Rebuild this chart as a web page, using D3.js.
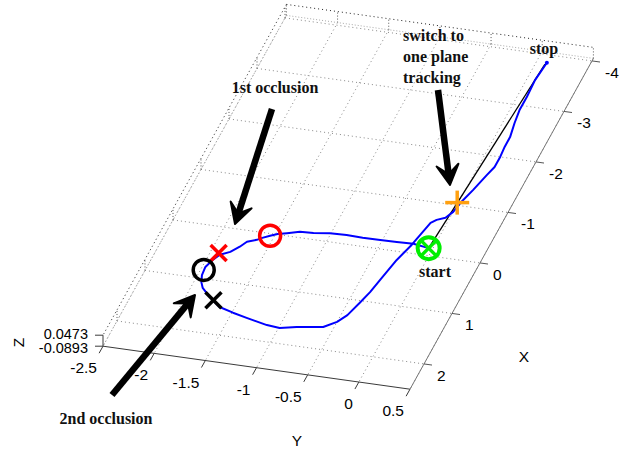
<!DOCTYPE html>
<html>
<head>
<meta charset="utf-8">
<script src="https://cdn.jsdelivr.net/npm/d3@7"></script>
<style>
  body { margin: 0; background: #fff; }
  svg { display: block; }
</style>
</head>
<body>
<svg id="chart" width="621" height="450"></svg>
<script>
// axis limits and ticks
var xLim = [-4.05, 2.5], yLim = [-2.5, 0.5], zLim = [-0.0893, 0.0473];
var xTicks = [-4, -3, -2, -1, 0, 1, 2];
var yTicks = [-2.5, -2, -1.5, -1, -0.5, 0, 0.5];
var zTicks = [0.0473, -0.0893];

// estimated trajectory (x, y)
var trajX = [-0.14, -0.18, -0.17, -0.165, -0.16, -0.17, -0.16, -0.12, -0.11, -0.05, -0.01, 0.04, 0.10, 0.15,
             0.21, 0.32, 0.44, 0.52, 0.64, 0.78, 0.94, 1.07, 1.17, 1.32, 1.48, 1.55, 1.61, 1.69, 1.71, 1.65,
             1.58, 1.45, 1.30, 1.04, 0.82, 0.57, 0.16, -0.16, -0.61, -0.68, -0.74, -0.87, -1.05, -1.32, -1.63,
             -1.80, -2.00, -2.20, -2.39, -2.66, -2.91, -3.17, -3.50, -3.85];
var trajY = [-0.04, -0.20, -0.36, -0.52, -0.69, -0.85, -1.01, -1.16, -1.29, -1.40, -1.48, -1.54, -1.60, -1.64,
             -1.72, -1.76, -1.82, -1.90, -1.94, -1.97, -1.96, -1.93, -1.89, -1.78, -1.64, -1.49, -1.34, -1.12, -0.99, -0.84,
             -0.60, -0.50, -0.44, -0.39, -0.35, -0.32, -0.27, -0.21, -0.15, -0.11, -0.04, 0.00, 0.02, 0.07, 0.12,
             0.15, 0.15, 0.14, 0.14, 0.11, 0.09, 0.09, 0.08, 0.10];

// straight reference line start -> stop
var refX = [-0.14, -3.82];
var refY = [-0.04, 0.09];

// event markers
var markName = ["start", "occ1Start", "occ1End", "occ2Start", "occ2End", "onePlane"];
var markX = [-0.14, 0.04, 0.49, 0.84, 1.37, -1.05];
var markY = [-0.04, -1.54, -1.92, -1.97, -1.73, -0.01];

var svg = d3.select("#chart");

// oblique projection of the 3-D box (MATLAB view), origin at corner x=2.5, y=-2.5, z=zmin
var ox = 103, oy = 346.2;
var xh = d3.scaleLinear().domain([2.5, -4.05]).range([0, 183.4]);
var xv = d3.scaleLinear().domain([2.5, -4.05]).range([0, -330.8]);
var yh = d3.scaleLinear().domain(yLim).range([0, 307]);
var yv = d3.scaleLinear().domain(yLim).range([0, 43]);
var zv = d3.scaleLinear().domain(zLim).range([0, -11]);

function proj(x, y, z) {
    return [ox + xh(x) + yh(y), oy + xv(x) + yv(y) + zv(z)];
}
function seg(g, a, b) {
    return g.append("line")
        .attr("x1", a[0]).attr("y1", a[1])
        .attr("x2", b[0]).attr("y2", b[1]);
}

var grid = svg.append("g")
    .attr("fill", "none");
var z0 = zLim[0], z1 = zLim[1];

// floor grid
xTicks.forEach(function(t){
    seg(grid, proj(t, yLim[0], z0), proj(t, yLim[1], z0))
        .attr("stroke", "#888").attr("stroke-dasharray", "1,3");
    // left wall
    seg(grid, proj(t, yLim[0], z0), proj(t, yLim[0], z1))
        .attr("stroke", "#555").attr("stroke-dasharray", "1,2");
});
yTicks.forEach(function(t){
    seg(grid, proj(xLim[0], t, z0), proj(xLim[1], t, z0))
        .attr("stroke", "#888").attr("stroke-dasharray", "1,3");
    // back wall
    seg(grid, proj(xLim[0], t, z0), proj(xLim[0], t, z1))
        .attr("stroke", "#555").attr("stroke-dasharray", "1,2");
});
// wall tops
seg(grid, proj(xLim[0], yLim[0], z1), proj(xLim[0], yLim[1], z1))
    .attr("stroke", "#222").attr("stroke-dasharray", "1,3");
seg(grid, proj(xLim[0], yLim[0], z1), proj(xLim[1], yLim[0], z1))
    .attr("stroke", "#222").attr("stroke-dasharray", "1,3");
seg(grid, proj(xLim[0], yLim[0], z0), proj(xLim[1], yLim[0], z0))
    .attr("stroke", "#aaa").attr("stroke-dasharray", "1,2");
seg(grid, proj(xLim[0], yLim[0], z0), proj(xLim[0], yLim[1], z0))
    .attr("stroke", "#aaa").attr("stroke-dasharray", "1,2");

// axes
var axes = svg.append("g").attr("stroke", "#3a3a3a").attr("stroke-width", 1);
seg(axes, proj(xLim[1], yLim[0], z0), proj(xLim[1], yLim[1], z0));
seg(axes, proj(xLim[1], yLim[1], z0), proj(xLim[0], yLim[1], z0)).attr("stroke", "#777");
seg(axes, proj(xLim[1], yLim[0], z0), proj(xLim[1], yLim[0], z1));

var lab = svg.append("g")
    .attr("font-family", "Liberation Sans, Arial, sans-serif")
    .attr("font-size", 15.5)
    .attr("fill", "#000");

yTicks.forEach(function(t){
    var p = proj(xLim[1], t, z0);
    seg(axes, p, [p[0] - 3.9, p[1] + 7]);
    lab.append("text")
        .attr("x", p[0] - 6).attr("y", p[1] + 27)
        .attr("text-anchor", "end")
        .text(String(t));
});
xTicks.forEach(function(t){
    var p = proj(t, yLim[1], z0);
    seg(axes, p, [p[0] + 8, p[1] + 1.1]).attr("stroke", "#555");
    lab.append("text")
        .attr("x", p[0] + 13).attr("y", p[1] + 17)
        .attr("text-anchor", "start")
        .text(String(t));
});
zTicks.forEach(function(t, i){
    var p = proj(xLim[1], yLim[0], t);
    seg(axes, p, [p[0] - 8, p[1]]);
    lab.append("text")
        .attr("x", p[0] - 15).attr("y", p[1] + (i == 0 ? 3.5 : 6.5))
        .attr("font-size", 14.5)
        .attr("text-anchor", "end")
        .text(String(t));
});

lab.append("text").attr("x", 297).attr("y", 446).attr("text-anchor", "middle").text("Y");
lab.append("text").attr("x", 524).attr("y", 362).attr("text-anchor", "middle").text("X");
lab.append("text").attr("transform", "translate(24,342.5) rotate(-90)")
    .attr("text-anchor", "middle").text("Z");

// reference line and trajectory
var line = d3.line()
    .x(function(d){ return proj(d[0], d[1], z0)[0]; })
    .y(function(d){ return proj(d[0], d[1], z0)[1]; });

svg.append("path")
    .attr("d", line(d3.zip(refX, refY)))
    .attr("fill", "none").attr("stroke", "#000").attr("stroke-width", 1.3);

svg.append("path")
    .attr("d", line(d3.zip(trajX, trajY)))
    .attr("fill", "none").attr("stroke", "#0000ff").attr("stroke-width", 2)
    .attr("stroke-linejoin", "round");

// stop end cap
var stopP = proj(trajX[trajX.length - 1], trajY[trajY.length - 1], z0);
svg.append("circle").attr("cx", stopP[0]).attr("cy", stopP[1]).attr("r", 2).attr("fill", "#0000ff");

// markers
var markStyle = {
    start:     {shape: "circlex", color: "#00ee00", r: 11},
    occ1Start: {shape: "circle", color: "#ff0000", r: 10.5},
    occ1End:   {shape: "x", color: "#ff0000", r: 8},
    occ2Start: {shape: "circle", color: "#000", r: 10.5},
    occ2End:   {shape: "x", color: "#000", r: 8},
    onePlane:  {shape: "plus", color: "#ffa010", r: 12}
};
var mk = svg.append("g").attr("fill", "none").attr("stroke-width", 3.5);
markName.forEach(function(n, i){
    var s = markStyle[n], p = proj(markX[i], markY[i], z0);
    if (s.shape == "circle" || s.shape == "circlex") {
        mk.append("circle").attr("cx", p[0]).attr("cy", p[1]).attr("r", s.r).attr("stroke", s.color)
            .attr("stroke-width", n == "start" ? 4 : 3.5);
    }
    if (s.shape == "x" || s.shape == "circlex") {
        var a = s.shape == "x" ? s.r : 7;
        seg(mk, [p[0] - a, p[1] - a], [p[0] + a, p[1] + a]).attr("stroke", s.color);
        seg(mk, [p[0] - a, p[1] + a], [p[0] + a, p[1] - a]).attr("stroke", s.color);
    }
    if (s.shape == "plus") {
        seg(mk, [p[0] - s.r, p[1]], [p[0] + s.r, p[1]]).attr("stroke", s.color);
        seg(mk, [p[0], p[1] - s.r], [p[0], p[1] + s.r]).attr("stroke", s.color);
    }
});

// annotation arrows
function arrow(x1, y1, x2, y2){
    var dx = x2 - x1, dy = y2 - y1, len = Math.sqrt(dx*dx + dy*dy);
    var ux = dx/len, uy = dy/len, nx = -uy, ny = ux;
    var L = 20, W = 11;
    var g = svg.append("g");
    g.append("line")
        .attr("x1", x1).attr("y1", y1)
        .attr("x2", x2 - ux*L*0.5).attr("y2", y2 - uy*L*0.5)
        .attr("stroke", "#000").attr("stroke-width", 6.5);
    g.append("path")
        .attr("d", "M" + x2 + "," + y2 +
            "L" + (x2 - ux*L + nx*W) + "," + (y2 - uy*L + ny*W) +
            "L" + (x2 - ux*L*0.55) + "," + (y2 - uy*L*0.55) +
            "L" + (x2 - ux*L - nx*W) + "," + (y2 - uy*L - ny*W) + "Z")
        .attr("fill", "#000").attr("stroke", "#000").attr("stroke-width", 2).attr("stroke-linejoin", "round");
}
arrow(272, 109, 235, 224);
arrow(112, 395, 195, 295);
arrow(438, 90, 450, 185);

var notes = svg.append("g")
    .attr("font-family", "Liberation Serif, Times New Roman, serif")
    .attr("font-weight", "bold")
    .attr("font-size", 16)
    .attr("fill", "#111");
notes.append("text").attr("x", 275).attr("y", 93).attr("text-anchor", "middle").text("1st occlusion");
notes.append("text").attr("x", 106).attr("y", 424).attr("text-anchor", "middle").text("2nd occlusion");
notes.append("text").attr("x", 403).attr("y", 41).text("switch to");
notes.append("text").attr("x", 403).attr("y", 62).text("one plane");
notes.append("text").attr("x", 403).attr("y", 83).text("tracking");
notes.append("text").attr("x", 544).attr("y", 54).attr("text-anchor", "middle").text("stop");
notes.append("text").attr("x", 435).attr("y", 277).attr("text-anchor", "middle").text("start");
</script>
</body>
</html>
